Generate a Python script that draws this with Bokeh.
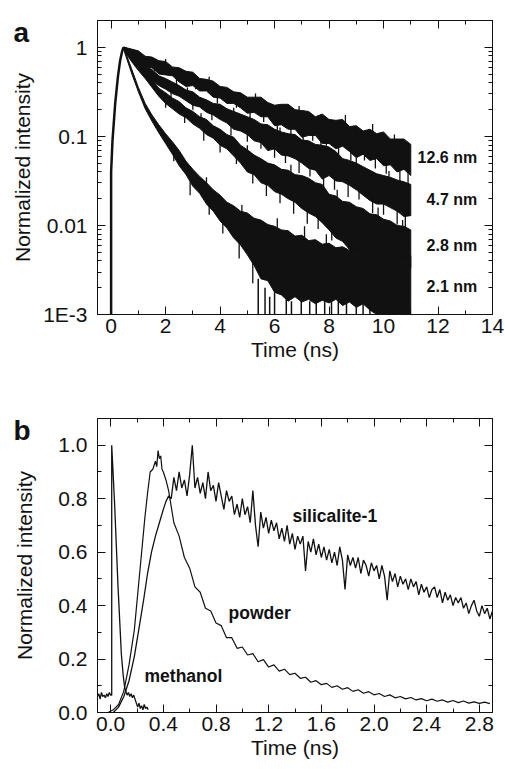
import numpy as np
from bokeh.plotting import figure
from bokeh.layouts import column
from bokeh.models import (FixedTicker, LinearAxis, LogAxis, CustomJSTickFormatter,
                          Label)
from bokeh.embed import file_html
from bokeh.resources import INLINE
from bokeh.core.properties import value

FONT = "Liberation Sans"
INK = "#111111"

# ---------------- panel a : decay curves (log10 of normalized intensity) ----------------
rise_t = [0.0, 0.0, 0.05, 0.15, 0.25, 0.33, 0.40, 0.45]
rise_log = [-3.0, -1.4, -1.05, -0.63, -0.33, -0.15, -0.05, 0.0]
peak_t = [0.45]
peak_log = [0.0]

band_t = [0.5, 0.75, 1.0, 1.25, 1.5, 1.75, 2.0, 2.25, 2.5, 2.75, 3.0, 3.25, 3.5, 3.75,
          4.0, 4.25, 4.5, 4.75, 5.0, 5.25, 5.5, 5.75, 6.0, 6.25, 6.5, 6.75, 7.0, 7.25,
          7.5, 7.75, 8.0, 8.25, 8.5, 8.75, 9.0, 9.25, 9.5, 9.75, 10.0, 10.25, 10.5,
          10.75, 11.0]

up_126 = [0.0, -0.02, -0.04, -0.10, -0.11, -0.15, -0.16, -0.22, -0.23, -0.27, -0.28, -0.35,
          -0.36, -0.38, -0.44, -0.45, -0.50, -0.51, -0.56, -0.56, -0.56, -0.62, -0.65, -0.64,
          -0.64, -0.70, -0.71, -0.72, -0.78, -0.75, -0.81, -0.82, -0.81, -0.89, -0.88, -0.94,
          -0.92, -0.97, -0.95, -1.03, -1.03, -1.03, -1.09]
lo_126 = [-0.04, -0.11, -0.14, -0.22, -0.23, -0.30, -0.31, -0.32, -0.39, -0.44, -0.43, -0.49,
          -0.49, -0.56, -0.57, -0.63, -0.63, -0.68, -0.74, -0.73, -0.78, -0.78, -0.88, -0.87,
          -0.92, -0.92, -1.01, -0.99, -0.99, -1.08, -1.08, -1.14, -1.11, -1.17, -1.24, -1.20,
          -1.27, -1.25, -1.33, -1.32, -1.40, -1.37, -1.44]

up_47 = [0.0, -0.07, -0.13, -0.21, -0.25, -0.32, -0.35, -0.39, -0.43, -0.48, -0.50, -0.56,
         -0.59, -0.63, -0.64, -0.69, -0.72, -0.75, -0.78, -0.81, -0.86, -0.87, -0.92, -0.95,
         -0.97, -0.98, -1.04, -1.05, -1.09, -1.10, -1.12, -1.17, -1.25, -1.27, -1.30, -1.34,
         -1.38, -1.42, -1.44, -1.46, -1.49, -1.51, -1.54]
lo_47 = [-0.04, -0.13, -0.22, -0.30, -0.37, -0.43, -0.47, -0.52, -0.55, -0.60, -0.65, -0.67,
         -0.73, -0.76, -0.81, -0.85, -0.92, -0.94, -0.98, -1.05, -1.07, -1.16, -1.14, -1.21,
         -1.22, -1.25, -1.30, -1.36, -1.38, -1.48, -1.44, -1.50, -1.51, -1.55, -1.60, -1.66,
         -1.72, -1.76, -1.76, -1.80, -1.84, -1.90, -1.89]

up_28 = [-0.01, -0.08, -0.18, -0.27, -0.36, -0.46, -0.51, -0.57, -0.61, -0.68, -0.72, -0.78,
         -0.81, -0.88, -0.92, -0.98, -1.01, -1.10, -1.15, -1.21, -1.25, -1.30, -1.32, -1.37,
         -1.38, -1.43, -1.44, -1.47, -1.52, -1.54, -1.65, -1.67, -1.73, -1.74, -1.79, -1.81,
         -1.87, -1.88, -1.93, -1.95, -2.00, -2.01, -2.05]
lo_28 = [-0.05, -0.16, -0.26, -0.35, -0.45, -0.55, -0.63, -0.69, -0.75, -0.79, -0.86, -0.91,
         -0.98, -1.02, -1.10, -1.14, -1.22, -1.30, -1.40, -1.43, -1.52, -1.55, -1.62, -1.65,
         -1.70, -1.74, -1.81, -1.86, -1.90, -1.97, -2.05, -2.14, -2.18, -2.27, -2.33, -2.38,
         -2.36, -2.42, -2.40, -2.46, -2.44, -2.50, -2.48]

up_21 = [-0.03, -0.24, -0.45, -0.63, -0.76, -0.87, -0.97, -1.06, -1.16, -1.28, -1.37, -1.45,
         -1.52, -1.60, -1.66, -1.74, -1.78, -1.84, -1.86, -1.92, -1.94, -1.99, -2.01, -2.05,
         -2.06, -2.12, -2.11, -2.17, -2.16, -2.21, -2.20, -2.25, -2.24, -2.28, -2.26, -2.30,
         -2.29, -2.33, -2.31, -2.35, -2.33, -2.36, -2.34]
lo_21 = [-0.06, -0.29, -0.50, -0.69, -0.83, -0.96, -1.08, -1.20, -1.33, -1.43, -1.56, -1.64,
         -1.76, -1.84, -1.95, -2.03, -2.14, -2.22, -2.33, -2.45, -2.60, -2.62, -2.75, -2.78,
         -2.85, -2.80, -2.86, -2.83, -2.88, -2.84, -2.87, -2.83, -2.90, -2.86, -2.92, -2.88,
         -2.95, -3.0, -3.0, -3.0, -3.0, -3.0, -3.0]

# noise spikes sticking out of the bands: times and lengths (decades)
sp126_lo_t = [1.6, 2.4, 3.1, 3.9, 4.6, 5.1, 5.6, 6.1, 6.6, 7.05, 7.4, 7.9, 8.35, 8.8, 9.3,
              9.7, 10.1, 10.6, 10.9]
sp126_lo_d = [0.04, 0.05, 0.04, 0.06, 0.05, 0.07, 0.06, 0.08, 0.07, 0.09, 0.06, 0.10, 0.08,
              0.10, 0.07, 0.11, 0.09, 0.10, 0.12]
sp126_up_t = [2.0, 3.6, 5.3, 6.9, 8.6, 9.6, 10.4]
sp126_up_d = [0.03, 0.03, 0.04, 0.05, 0.05, 0.06, 0.05]
sp47_lo_t = [2.2, 3.0, 3.7, 4.4, 5.0, 5.5, 6.0, 6.4, 6.9, 7.3, 7.8, 8.2, 8.7, 9.1, 9.6, 10.0,
             10.5, 10.8]
sp47_lo_d = [0.05, 0.05, 0.06, 0.07, 0.08, 0.07, 0.10, 0.08, 0.11, 0.09, 0.12, 0.10, 0.13,
             0.11, 0.14, 0.12, 0.15, 0.13]
sp47_up_t = [2.8, 4.5, 6.2, 7.7, 9.0, 10.2]
sp47_up_d = [0.03, 0.04, 0.05, 0.06, 0.06, 0.07]
sp28_lo_t = [2.0, 2.7, 3.4, 4.0, 4.6, 5.2, 5.7, 6.2, 6.7, 7.2, 7.6, 8.1]
sp28_lo_d = [0.05, 0.06, 0.07, 0.08, 0.09, 0.10, 0.12, 0.10, 0.13, 0.12, 0.14, 0.12]
sp28_up_t = [3.3, 5.0, 6.6, 8.3, 9.8, 10.7]
sp28_up_d = [0.04, 0.05, 0.06, 0.07, 0.08, 0.07]
sp21_up_t = [3.5, 4.8, 6.1, 7.1, 7.9, 8.8]
sp21_up_d = [0.06, 0.07, 0.09, 0.10, 0.10, 0.09]
sp21_lo_t = [2.3, 2.9, 3.6, 4.1, 4.7, 5.2]
sp21_lo_d = [0.08, 0.10, 0.12, 0.14, 0.15, 0.20]

# noise spikes of the 2.1 nm trace reaching the 1E-3 floor
spike_t = [5.4, 5.65, 5.82, 6.0, 6.43, 6.62, 6.98, 7.29, 7.53, 7.84, 8.09, 8.34, 8.64,
           9.0, 9.25, 9.5]
spike_top_log = [-2.6, -2.7, -2.8, -2.75, -2.8, -2.85, -2.8, -2.85, -2.8, -2.85, -2.8,
                 -2.85, -2.8, -2.85, -2.8, -2.9]

a_labels = ["12.6 nm", "4.7 nm", "2.8 nm", "2.1 nm"]
a_label_x = [11.25, 11.58, 11.58, 11.58]
a_label_y = [0.058, 0.0195, 0.006, 0.00208]

a_xticks = [0, 2, 4, 6, 8, 10, 12, 14]
a_xminor = [1, 3, 5, 7, 9, 11, 13]
a_yticks = [0.001, 0.01, 0.1, 1]
a_yminor = [0.002, 0.003, 0.004, 0.005, 0.006, 0.007, 0.008, 0.009,
            0.02, 0.03, 0.04, 0.05, 0.06, 0.07, 0.08, 0.09,
            0.2, 0.3, 0.4, 0.5, 0.6, 0.7, 0.8, 0.9, 2]

# ---------------- panel b : linear decay curves ----------------
meth_t = [-0.10, -0.09, -0.08, -0.07, -0.06, -0.05, -0.04, -0.03, -0.02, -0.01, 0.0,
          0.008, 0.008, 0.02, 0.03, 0.045, 0.056, 0.07, 0.081, 0.095, 0.106,
          0.115, 0.125, 0.135, 0.145, 0.155, 0.165, 0.175, 0.185, 0.195, 0.205, 0.215,
          0.225, 0.235, 0.245, 0.255, 0.265, 0.275, 0.285]
meth_v = [0.06, 0.07, 0.05, 0.075, 0.06, 0.065, 0.055, 0.07, 0.06, 0.075, 0.065,
          0.065, 1.0, 0.88, 0.78, 0.60, 0.47, 0.33, 0.22, 0.14, 0.095,
          0.08, 0.065, 0.075, 0.06, 0.07, 0.055, 0.065, 0.05, 0.035, 0.02, 0.035,
          0.015, 0.025, 0.01, 0.03, 0.015, 0.02, 0.01]

pow_rise_t = [-0.02, 0.02, 0.06, 0.10, 0.14, 0.18, 0.22, 0.26, 0.28, 0.30, 0.32, 0.34,
              0.35, 0.36, 0.37, 0.38, 0.39, 0.40, 0.42]
pow_rise_v = [0.0, 0.01, 0.03, 0.08, 0.18, 0.31, 0.52, 0.73, 0.82, 0.90, 0.91, 0.94,
              0.92, 0.98, 0.95, 0.96, 0.91, 0.90, 0.87]
pow_tail_t = [0.44, 0.48, 0.52, 0.56, 0.60, 0.64, 0.68, 0.72, 0.76, 0.80,
              0.84, 0.88, 0.92, 0.96, 1.00, 1.04, 1.08, 1.12, 1.16, 1.20,
              1.24, 1.28, 1.32, 1.36, 1.40, 1.44, 1.48, 1.52, 1.56, 1.60,
              1.64, 1.68, 1.72, 1.76, 1.80, 1.84, 1.88, 1.92, 1.96, 2.00,
              2.04, 2.08, 2.12, 2.16, 2.20, 2.24, 2.28, 2.32, 2.36, 2.40,
              2.44, 2.48, 2.52, 2.56, 2.60, 2.64, 2.68, 2.72, 2.76, 2.80,
              2.84, 2.88]
pow_tail_v = [0.83, 0.71, 0.66, 0.58, 0.54, 0.47, 0.45, 0.39, 0.38, 0.335,
              0.325, 0.28, 0.28, 0.24, 0.245, 0.215, 0.22, 0.19, 0.198, 0.17,
              0.178, 0.155, 0.162, 0.142, 0.147, 0.128, 0.132, 0.113, 0.119, 0.104,
              0.109, 0.094, 0.1, 0.087, 0.093, 0.079, 0.085, 0.072, 0.078, 0.066,
              0.071, 0.06, 0.066, 0.055, 0.06, 0.051, 0.056, 0.047, 0.052, 0.044,
              0.05, 0.042, 0.047, 0.039, 0.045, 0.037, 0.043, 0.035, 0.04, 0.034,
              0.039, 0.033]

sil_rise_t = [0.02, 0.06, 0.10, 0.14, 0.18, 0.22, 0.25, 0.28, 0.31, 0.34, 0.37, 0.40, 0.42, 0.44]
sil_rise_v = [0.0, 0.02, 0.06, 0.12, 0.21, 0.33, 0.42, 0.52, 0.60, 0.66, 0.71, 0.76, 0.79, 0.81]
sil_tail_t = [0.46, 0.48, 0.50, 0.52, 0.54, 0.56, 0.58, 0.60, 0.62, 0.64,
              0.66, 0.68, 0.70, 0.72, 0.74, 0.76, 0.78, 0.80, 0.82, 0.84,
              0.86, 0.88, 0.90, 0.92, 0.94, 0.96, 0.98, 1.00, 1.02, 1.04,
              1.06, 1.08, 1.10, 1.12, 1.14, 1.16, 1.18, 1.20, 1.22, 1.24,
              1.26, 1.28, 1.30, 1.32, 1.34, 1.36, 1.38, 1.40, 1.42, 1.44,
              1.46, 1.48, 1.50, 1.52, 1.54, 1.56, 1.58, 1.60, 1.62, 1.64,
              1.66, 1.68, 1.70, 1.72, 1.74, 1.76, 1.78, 1.80, 1.82, 1.84,
              1.86, 1.88, 1.90, 1.92, 1.94, 1.96, 1.98, 2.00, 2.02, 2.04,
              2.06, 2.08, 2.10, 2.12, 2.14, 2.16, 2.18, 2.20, 2.22, 2.24,
              2.26, 2.28, 2.30, 2.32, 2.34, 2.36, 2.38, 2.40, 2.42, 2.44,
              2.46, 2.48, 2.50, 2.52, 2.54, 2.56, 2.58, 2.60, 2.62, 2.64,
              2.66, 2.68, 2.70, 2.72, 2.74, 2.76, 2.78, 2.80, 2.82, 2.84,
              2.86, 2.88, 2.90]
sil_tail_v = [0.80, 0.88, 0.83, 0.90, 0.84, 0.87, 0.81, 0.89, 1.00, 0.84,
              0.88, 0.82, 0.86, 0.80, 0.90, 0.83, 0.85, 0.79, 0.86, 0.81,
              0.76, 0.83, 0.79, 0.81, 0.74, 0.78, 0.73, 0.80, 0.74, 0.77,
              0.71, 0.83, 0.70, 0.62, 0.75, 0.69, 0.73, 0.67, 0.72, 0.68,
              0.71, 0.65, 0.69, 0.64, 0.70, 0.63, 0.67, 0.61, 0.66, 0.63,
              0.66, 0.53, 0.64, 0.60, 0.65, 0.59, 0.63, 0.58, 0.62, 0.57,
              0.61, 0.56, 0.60, 0.55, 0.62, 0.57, 0.46, 0.59, 0.55, 0.58,
              0.54, 0.58, 0.52, 0.57, 0.55, 0.51, 0.56, 0.53, 0.55, 0.50,
              0.55, 0.51, 0.42, 0.53, 0.49, 0.52, 0.47, 0.51, 0.48, 0.50,
              0.46, 0.50, 0.47, 0.49, 0.44, 0.48, 0.45, 0.47, 0.43, 0.46,
              0.47, 0.43, 0.46, 0.41, 0.45, 0.42, 0.44, 0.40, 0.43, 0.41,
              0.43, 0.39, 0.41, 0.37, 0.40, 0.42, 0.38, 0.36, 0.40, 0.37,
              0.39, 0.35, 0.38]

b_labels = ["silicalite-1", "powder", "methanol"]
b_label_x = [1.381, 0.895, 0.257]
b_label_y = [0.737, 0.374, 0.138]

b_xticks = [0.0, 0.4, 0.8, 1.2, 1.6, 2.0, 2.4, 2.8]
b_xminor = [0.2, 0.6, 1.0, 1.4, 1.8, 2.2, 2.6]
b_yticks = [0.0, 0.2, 0.4, 0.6, 0.8, 1.0]
b_yminor = [0.1, 0.3, 0.5, 0.7, 0.9]


def style_axis(ax, labels=True):
    ax.axis_line_color = INK
    ax.axis_line_width = 1
    ax.major_tick_in = 8
    ax.major_tick_out = 0
    ax.minor_tick_in = 4
    ax.minor_tick_out = 0
    ax.major_tick_line_color = INK
    ax.minor_tick_line_color = INK
    ax.major_label_text_font = FONT
    ax.major_label_text_color = INK
    ax.axis_label_text_font = FONT
    ax.axis_label_text_font_size = "21px"
    ax.axis_label_text_font_style = "normal"
    ax.axis_label_text_color = INK
    if labels:
        ax.major_label_text_font_size = "21px"
    else:
        # mirrored frame axis: ticks only, labels invisible
        ax.major_label_text_font_size = "1px"
        ax.major_label_text_alpha = 0.0
        ax.major_label_standoff = 0


def base_fig(height, top, bottom, **kw):
    p = figure(width=505, height=height, output_backend="svg", toolbar_location=None,
               min_border_left=97, min_border_right=13, min_border_top=top,
               min_border_bottom=bottom, **kw)
    p.xgrid.visible = False
    p.ygrid.visible = False
    p.outline_line_color = INK
    p.background_fill_color = "white"
    p.border_fill_color = "white"
    return p


def edge_spikes(p, times, lengths, edge, sign):
    xs, y0, y1 = [], [], []
    for t, d in zip(times, lengths):
        i = min(range(len(band_t)), key=lambda k: abs(band_t[k] - t))
        base = edge[i]
        xs.append(t)
        y0.append(10 ** (base - sign * 0.05))
        y1.append(10 ** (base + sign * d))
    p.segment(x0=xs, y0=y0, x1=xs, y1=y1, line_color=INK, line_width=1.3)


def panel_letter(p, text, x, y):
    # placed in the top side panel so it is not clipped to the data frame
    p.add_layout(Label(x=x, y=y, x_units="canvas", y_units="canvas", text=text,
                       text_font=FONT, text_font_size="28px", text_font_style="bold",
                       text_color=INK, text_baseline="alphabetic", text_align="left"),
                 "above")


# ---------------- figure a ----------------
# the canvas is 16 px taller than its visible part and pulled up by 16 px so that the
# panel letter fits in the top panel while the frame starts 20 px below the page top
pa = base_fig(396, 36, 66, y_axis_type="log", x_range=(-0.5, 14.0), y_range=(1e-3, 2.0))
pa.margin = (-16, 0, 0, 0)

log_fmt = CustomJSTickFormatter(code="""
if (tick > 0.5) return "1";
if (tick > 0.05) return "0.1";
if (tick > 0.005) return "0.01";
return "1E-3";
""")
pa.xaxis.ticker = FixedTicker(ticks=a_xticks, minor_ticks=a_xminor)
pa.yaxis.ticker = FixedTicker(ticks=a_yticks, minor_ticks=a_yminor)
pa.yaxis.formatter = log_fmt
pa.xaxis.axis_label = "Time (ns)"
pa.yaxis.axis_label = "Normalized intensity"
style_axis(pa.xaxis[0])
style_axis(pa.yaxis[0])
pa.xaxis.major_label_standoff = 4
pa.xaxis.axis_label_standoff = 2
pa.yaxis.major_label_standoff = 10
pa.yaxis.axis_label_standoff = 6
top_a = LinearAxis(ticker=FixedTicker(ticks=a_xticks, minor_ticks=a_xminor))
right_a = LogAxis(ticker=FixedTicker(ticks=a_yticks, minor_ticks=a_yminor))
style_axis(top_a, labels=False)
style_axis(right_a, labels=False)
pa.add_layout(top_a, "above")
pa.add_layout(right_a, "right")

for up, lo in [(up_126, lo_126), (up_47, lo_47), (up_28, lo_28), (up_21, lo_21)]:
    xs = peak_t + band_t + band_t[::-1]
    ys = list(10 ** np.array(peak_log + up)) + list(10 ** np.array(lo))[::-1]
    pa.patch(xs, ys, fill_color=INK, line_color=INK, line_width=1)

edge_spikes(pa, sp126_lo_t, sp126_lo_d, lo_126, -1)
edge_spikes(pa, sp126_up_t, sp126_up_d, up_126, +1)
edge_spikes(pa, sp47_lo_t, sp47_lo_d, lo_47, -1)
edge_spikes(pa, sp47_up_t, sp47_up_d, up_47, +1)
edge_spikes(pa, sp28_lo_t, sp28_lo_d, lo_28, -1)
edge_spikes(pa, sp28_up_t, sp28_up_d, up_28, +1)
edge_spikes(pa, sp21_lo_t, sp21_lo_d, lo_21, -1)
edge_spikes(pa, sp21_up_t, sp21_up_d, up_21, +1)

pa.line(rise_t, list(10 ** np.array(rise_log)), line_color=INK, line_width=2.5)
pa.segment(x0=spike_t, y0=list(10 ** np.array(spike_top_log)), x1=spike_t,
           y1=[1e-3] * len(spike_t), line_color=INK, line_width=1.5)

pa.text(x=a_label_x, y=a_label_y, text=a_labels, text_font=value(FONT),
        text_font_size="16px", text_font_style="bold", text_color=INK,
        text_baseline="middle", text_align="left")
panel_letter(pa, "a", 13, 48)

# ---------------- figure b ----------------
pb = base_fig(389, 38, 57, x_range=(-0.1, 2.9), y_range=(0.0, 1.1))
pb.xaxis.ticker = FixedTicker(ticks=b_xticks, minor_ticks=b_xminor)
pb.yaxis.ticker = FixedTicker(ticks=b_yticks, minor_ticks=b_yminor)
pb.xaxis.formatter = CustomJSTickFormatter(code="return tick.toFixed(1);")
pb.yaxis.formatter = CustomJSTickFormatter(code="return tick.toFixed(1);")
pb.xaxis.axis_label = "Time (ns)"
pb.yaxis.axis_label = "Normalized intensity"
style_axis(pb.xaxis[0])
style_axis(pb.yaxis[0])
pb.xaxis.major_label_standoff = 4
pb.xaxis.axis_label_standoff = 2
pb.yaxis.major_label_standoff = 10
pb.yaxis.axis_label_standoff = 19
top_b = LinearAxis(ticker=FixedTicker(ticks=b_xticks, minor_ticks=b_xminor))
right_b = LinearAxis(ticker=FixedTicker(ticks=b_yticks, minor_ticks=b_yminor))
style_axis(top_b, labels=False)
style_axis(right_b, labels=False)
pb.add_layout(top_b, "above")
pb.add_layout(right_b, "right")

pb.line(meth_t, meth_v, line_color=INK, line_width=1.3)
pb.line(pow_rise_t + pow_tail_t, pow_rise_v + pow_tail_v, line_color=INK, line_width=1.2)
pb.line(sil_rise_t + sil_tail_t, sil_rise_v + sil_tail_v, line_color=INK, line_width=1.3)

pb.text(x=b_label_x, y=b_label_y, text=b_labels, text_font=value(FONT),
        text_font_size="17.5px", text_font_style="bold", text_color=INK,
        text_baseline="middle", text_align="left")
panel_letter(pb, "b", 13, 50)

layout = column(pa, pb)
open("out.html", "w").write(file_html(layout, INLINE))
